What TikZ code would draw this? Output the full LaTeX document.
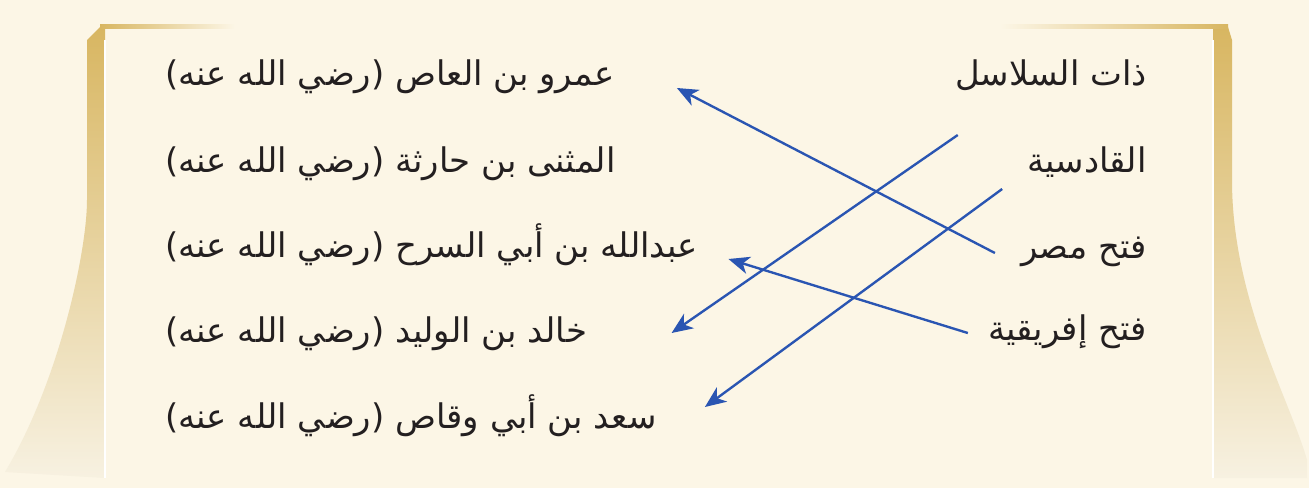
\documentclass[tikz,border=0pt]{standalone}
\usepackage{fontspec}
\newfontfamily\arabicfont[Script=Arabic]{DejaVu Sans}
\TeXXeTstate=1
\usetikzlibrary{arrows.meta}

\definecolor{parch}{HTML}{FCF6E6}
\definecolor{gold}{HTML}{D8B661}
\definecolor{goldpale}{HTML}{F7F1E1}
\definecolor{linkblue}{HTML}{2A55B2}
\definecolor{ink}{HTML}{231F20}

\newcommand{\artext}[1]{\beginR #1\endR}

\begin{document}
\begin{tikzpicture}[x=0.02cm, y=-0.02cm, >=Stealth,
      item/.style={font=\fontsize{19.3}{24}\selectfont\arabicfont, text=ink, inner sep=0pt},
      link/.style={draw=linkblue, line width=1.35pt,
                   arrows={-Stealth[length=12pt, width=10pt, inset=3.5pt]}}]

    % Parchment background and scroll edges
    \fill[parch] (0,0) rectangle (1309,488);
    \useasboundingbox (0,0) rectangle (1309,488);
    \shade[top color=gold, bottom color=goldpale]
        (100,27) -- (105,27) -- (105,478) -- (5,472)
        .. controls (60,380) and (87,250) .. (87,200) -- (87,40) -- cycle;
    \shade[top color=gold, bottom color=goldpale]
        (1213,27) -- (1228,27) -- (1232,40) -- (1232,180)
        .. controls (1232,300) and (1290,400) .. (1307,460) -- (1307,478) -- (1213,478) -- cycle;
    \shade[left color=gold, right color=parch] (100,24) rectangle (235,28);
    \shade[left color=parch, right color=gold] (1000,24) rectangle (1228,28);
    \draw[white, line width=0.6pt] (105,40) -- (105,478);
    \draw[white, line width=0.6pt] (1213,40) -- (1213,478);

    % Battles (right column)
    \node[item, anchor=base east] (r1) at (1147,85)  {\artext{ذات السلاسل}};
    \node[item, anchor=base east] (r2) at (1147,172) {\artext{القادسية}};
    \node[item, anchor=base east] (r3) at (1147,258) {\artext{فتح مصر}};
    \node[item, anchor=base east] (r4) at (1147,340) {\artext{فتح إفريقية}};

    % Leaders (left column)
    \node[item, anchor=base west] (l1) at (165,85)  {\artext{عمرو بن العاص (رضي الله عنه)}};
    \node[item, anchor=base west] (l2) at (165,172) {\artext{المثنى بن حارثة (رضي الله عنه)}};
    \node[item, anchor=base west] (l3) at (165,257) {\artext{عبدالله بن أبي السرح (رضي الله عنه)}};
    \node[item, anchor=base west] (l4) at (165,342) {\artext{خالد بن الوليد (رضي الله عنه)}};
    \node[item, anchor=base west] (l5) at (165,428) {\artext{سعد بن أبي وقاص (رضي الله عنه)}};

    % Matching arrows
    \draw[link] ([shift={(-26,-5)}]r3.base west) -- ([shift={(62,3)}]l1.base east);
    \draw[link] ([shift={(3,50)}]r1.base west)   -- ([shift={(84,-9)}]l4.base east);
    \draw[link] ([shift={(-25,17)}]r2.base west) -- ([shift={(48,-21)}]l5.base east);
    \draw[link] ([shift={(-20,-7)}]r4.base west) -- ([shift={(30,2)}]l3.base east);

\end{tikzpicture}
\end{document}
